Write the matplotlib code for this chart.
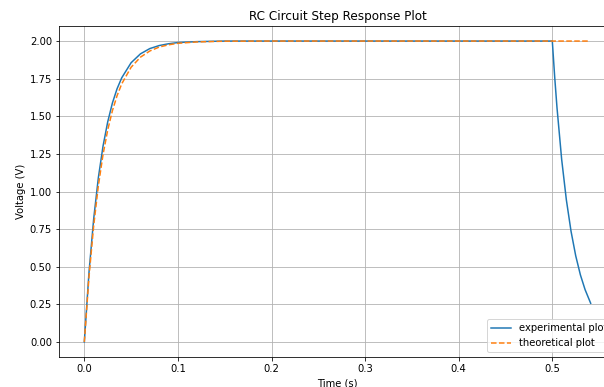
import matplotlib
matplotlib.use('Agg')
import matplotlib.pyplot as plt

# values
exp_time = [0.0, 0.005, 0.01, 0.015, 0.02, 0.025, 0.03, 0.035, 0.04, 0.05,
            0.06, 0.07, 0.08, 0.09, 0.1, 0.12, 0.15, 0.2, 0.3, 0.4, 0.5,
            0.5025, 0.505, 0.51, 0.515, 0.52, 0.525, 0.53, 0.535, 0.541]
exp_voltage = [0.0, 0.463, 0.818, 1.092, 1.302, 1.463, 1.588, 1.683, 1.756, 1.856,
               1.915, 1.950, 1.970, 1.982, 1.990, 1.996, 2.0, 2.0, 2.0, 2.0, 2.0,
               1.765, 1.558, 1.213, 0.945, 0.736, 0.573, 0.446, 0.348, 0.257]

theo_time = [0.0, 0.005, 0.01, 0.015, 0.02, 0.025, 0.03, 0.035, 0.04, 0.05,
             0.06, 0.07, 0.08, 0.09, 0.1, 0.12, 0.15, 0.2, 0.3, 0.4, 0.5, 0.538]
theo_voltage = [0.0, 0.433, 0.772, 1.038, 1.246, 1.409, 1.537, 1.637, 1.716, 1.826,
                1.893, 1.934, 1.960, 1.975, 1.985, 1.994, 1.999, 2.0, 2.0, 2.0, 2.0, 2.0]

dpi = 72
fig = plt.figure(figsize=(604 / dpi, 387 / dpi), dpi=dpi)
# the original figure was cropped on the right and bottom
ax = fig.add_axes([59 / 604, 30 / 387, 557 / 604, 331 / 387])

ax.plot(exp_time, exp_voltage, label='experimental plot')
ax.plot(theo_time, theo_voltage, '--', label='theoretical plot')
ax.set_title('RC Circuit Step Response Plot')
ax.set_xlabel('Time (s)')
ax.set_ylabel('Voltage (V)')
ax.grid(True)
ax.legend(loc='lower right')

fig.savefig('out.png', dpi=dpi)
